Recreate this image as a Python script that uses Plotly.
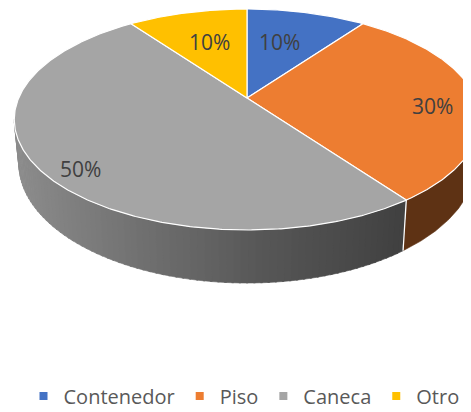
import numpy as np
import plotly.graph_objects as go

# ---- data ----
categories = ["Contenedor", "Piso", "Caneca", "Otro"]
values = [10, 30, 50, 10]

# ---- style ----
top_colors = ["#4472C4", "#ED7D31", "#A5A5A5", "#FFC000"]
side_colors = ["#25406F", "#5E3214", None, "#8C6A00"]  # None -> gradient
gray_grad_x = [15, 135, 265, 400]
gray_grad_v = [0x8C, 0x71, 0x56, 0x41]
label_rx = [0.454, 0.811, 0.90, 0.525]
label_ry = [0.60, 0.80, 0.948, 0.60]
FONT = "Open Sans"

W, HGT = 471, 412
OFF = 8               # page body margin compensation
CX, CY = 247, 98      # projected pie centre
K, KS = 228.3, 106.3  # horizontal / vertical projection scale
P = 0.1946            # perspective factor
DEPTH = 42.7          # thickness
SHRINK = 0.02
LCY, LKS = 106, 113

def top_pt(theta):
    t = np.radians(theta)
    X, Y = np.sin(t), np.cos(t)
    w = 1 + P * Y
    return CX + K * X / w, CY - KS * Y / w

def bot_pt(theta):
    x, y = top_pt(theta)
    w = 1 + P * np.cos(np.radians(theta))
    return CX + (x - CX) * (1 - SHRINK), y + DEPTH / w

total = sum(values)
bounds = np.concatenate([[0], np.cumsum(values) / total * 360])
theta_r = np.degrees(np.arccos(-P))
theta_l = 360 - theta_r

fig = go.Figure()

def gray_color(x):
    v = int(round(np.interp(x, gray_grad_x, gray_grad_v)))
    return f"rgb({v},{v},{v})"

# ---- sides ----
for i in range(len(values)):
    a, b = bounds[i], bounds[i + 1]
    lo, hi = max(a, theta_r), min(b, theta_l)
    if hi <= lo:
        continue
    if side_colors[i] is None:
        n = int((hi - lo) / 1.5) + 1
        edges = np.linspace(lo, hi, n + 1)
        for j in range(n):
            s0, s1 = edges[j], min(edges[j + 1] + 0.4, hi)
            th = np.linspace(s0, s1, 4)
            tx, ty = top_pt(th)
            bx, by = bot_pt(th)
            xs = list(tx) + list(bx[::-1]) + [tx[0]]
            ys = list(ty) + list(by[::-1]) + [ty[0]]
            col = gray_color(np.mean(tx))
            fig.add_trace(go.Scatter(x=xs, y=ys, fill="toself", mode="lines",
                                     fillcolor=col, line=dict(color=col, width=0.6),
                                     showlegend=False, hoverinfo="skip"))
    else:
        th = np.linspace(lo, hi, 80)
        tx, ty = top_pt(th)
        bx, by = bot_pt(th)
        xs = list(tx) + list(bx[::-1]) + [tx[0]]
        ys = list(ty) + list(by[::-1]) + [ty[0]]
        fig.add_trace(go.Scatter(x=xs, y=ys, fill="toself", mode="lines",
                                 fillcolor=side_colors[i], line=dict(color=side_colors[i], width=0.6),
                                 showlegend=False, hoverinfo="skip"))

# seams between visible sides
for i in range(1, len(values)):
    bd = bounds[i]
    if theta_r < bd < theta_l:
        x0, y0 = top_pt(bd)
        x1, y1 = bot_pt(bd)
        fig.add_trace(go.Scatter(x=[x0, x1], y=[y0, y1], mode="lines",
                                 line=dict(color="white", width=1.3),
                                 showlegend=False, hoverinfo="skip"))

# ---- top faces ----
for i in range(len(values)):
    a, b = bounds[i], bounds[i + 1]
    th = np.linspace(a, b, max(3, int((b - a) * 2)))
    ax_, ay_ = top_pt(th)
    xs = [CX] + list(ax_) + [CX]
    ys = [CY] + list(ay_) + [CY]
    fig.add_trace(go.Scatter(x=xs, y=ys, fill="toself", mode="lines",
                             fillcolor=top_colors[i], line=dict(color="white", width=1.2),
                             showlegend=False, hoverinfo="skip"))

# ---- labels ----
for i in range(len(values)):
    m = np.radians((bounds[i] + bounds[i + 1]) / 2)
    lx = CX + K * label_rx[i] * np.sin(m)
    ly = LCY - LKS * label_ry[i] * np.cos(m)
    pct = f"{round(values[i] / total * 100)}%"
    fig.add_annotation(x=lx, y=ly, text=pct, showarrow=False,
                       font=dict(family=FONT, size=21, color="#404040"))

# ---- legend ----
for i, cat in enumerate(categories):
    fig.add_trace(go.Scatter(x=[None], y=[None], mode="markers", name=cat,
                             marker=dict(symbol="square", size=8, color=top_colors[i])))

fig.update_layout(
    width=W, height=HGT,
    margin=dict(l=0, r=0, t=0, b=0),
    paper_bgcolor="white", plot_bgcolor="white",
    xaxis=dict(range=[OFF, W + OFF], visible=False, fixedrange=True),
    yaxis=dict(range=[HGT + OFF, OFF], visible=False, fixedrange=True),
    showlegend=True,
    legend=dict(orientation="h", x=(244 - OFF) / W, xanchor="center",
                y=(HGT - (396 - OFF)) / HGT, yanchor="middle",
                font=dict(family=FONT, size=20, color="#595959"),
                bgcolor="rgba(0,0,0,0)", itemwidth=30),
)

fig.write_html("out.html")
